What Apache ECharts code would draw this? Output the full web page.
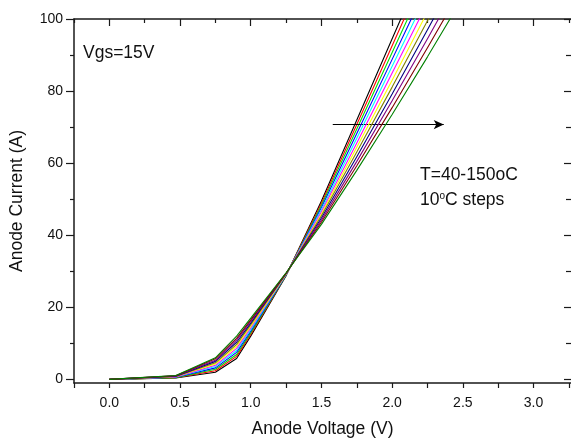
<!DOCTYPE html>
<html>
<head>
<meta charset="utf-8">
<script src="https://cdn.jsdelivr.net/npm/echarts@6/dist/echarts.min.js"></script>
<style>
html,body{margin:0;padding:0;background:#fff;}
#c{width:571px;height:443px;}
</style>
</head>
<body>
<div id="c"></div>
<script>
// Anode voltage grid (V)
const voltage = [0, 0.47, 0.75, 0.9, 1.0, 1.25, 1.5, 1.75, 2.0, 2.25, 2.5];
// Temperatures (°C)
const temps = [40, 50, 60, 70, 80, 90, 100, 110, 120, 130, 140, 150];
// Anode current (A) per temperature
const i40  = [0, 0.4, 2.0, 5.8, 12.0, 28.8, 49.5, 72.0, 94.5, 117, 140];
const i50  = [0, 0.5, 2.4, 6.4, 12.5, 28.9, 48.9, 70.7, 92.6, 114.5, 136.9];
const i60  = [0, 0.5, 2.8, 6.9, 12.9, 28.9, 48.3, 69.5, 90.7, 112, 133.8];
const i70  = [0, 0.6, 3.2, 7.5, 13.4, 29.0, 47.7, 68.2, 88.8, 109.5, 130.7];
const i80  = [0, 0.7, 3.6, 8.0, 13.8, 29.1, 47.1, 66.9, 86.9, 107, 127.6];
const i90  = [0, 0.7, 3.9, 8.6, 14.3, 29.2, 46.5, 65.6, 85.0, 104.5, 124.5];
const i100 = [0, 0.8, 4.3, 9.2, 14.7, 29.2, 45.9, 64.4, 83.0, 102, 121.5];
const i110 = [0, 0.8, 4.6, 9.7, 15.2, 29.3, 45.4, 63.1, 81.1, 99.5, 118.4];
const i120 = [0, 0.9, 5.0, 10.3, 15.6, 29.4, 44.8, 61.8, 79.2, 97, 115.3];
const i130 = [0, 1.0, 5.3, 10.9, 16.1, 29.4, 44.2, 60.5, 77.3, 94.5, 112.2];
const i140 = [0, 1.0, 5.7, 11.4, 16.5, 29.5, 43.6, 59.3, 75.4, 92, 109.1];
const i150 = [0, 1.1, 6.0, 12.0, 17.0, 29.6, 43.0, 58.0, 73.5, 89.5, 106];
const currents = [i40, i50, i60, i70, i80, i90, i100, i110, i120, i130, i140, i150];
const colors = ['#000000','#ff0000','#00e000','#0000ff','#00ffff','#ff00ff','#ffff00','#808000','#000080','#800080','#800000','#008000'];

// Tick labels
const xLabels = [0, 0.5, 1.0, 1.5, 2.0, 2.5, 3.0];
const xTicks = [-0.25, 0, 0.25, 0.5, 0.75, 1.0, 1.25, 1.5, 1.75, 2.0, 2.25, 2.5, 2.75, 3.0, 3.25];
const xMinorTop = [-0.25, 0.25, 0.75, 1.25, 1.75, 2.25, 2.75, 3.25];
const yLabels = [0, 20, 40, 60, 80, 100];
const yMinor = [10, 30, 50, 70, 90];

// Arrow annotation (data coords)
const arrowFrom = [1.58, 70.7];
const arrowTo = [2.365, 70.7];

const FONT = 'Liberation Sans, Arial, Helvetica, sans-serif';
const AX = '#1a1a1a';

const chart = echarts.init(document.getElementById('c'), null, {renderer: 'canvas'});

const series = temps.map((t, k) => ({
  name: t + '°C',
  type: 'line',
  xAxisIndex: 0,
  yAxisIndex: 0,
  data: voltage.map((v, j) => [v, currents[k][j]]),
  showSymbol: false,
  symbol: 'none',
  clip: true,
  lineStyle: {width: 1.1, color: colors[k]},
  itemStyle: {color: colors[k]},
  z: 2 + k,
  animation: false
}));
series[0].markLine = {
  silent: true,
  symbol: ['none', 'arrow'],
  symbolSize: [7, 10],
  label: {show: false},
  lineStyle: {color: '#000', width: 1, type: 'solid'},
  data: [[{coord: arrowFrom}, {coord: arrowTo}]],
  animation: false
};

const baseX = {type: 'value', min: -0.25, max: 3.265, gridIndex: 0, splitLine: {show: false}};
const baseY = {type: 'value', min: -1, max: 100, gridIndex: 0, splitLine: {show: false}};

chart.setOption({
  animation: false,
  backgroundColor: '#fff',
  grid: {left: 74, top: 19, right: 0, bottom: 59, containLabel: false},
  xAxis: [
    Object.assign({}, baseX, {
      position: 'bottom',
      axisLine: {show: true, onZero: false, lineStyle: {color: AX, width: 1.5}},
      axisTick: {show: true, inside: false, length: 5, customValues: xTicks, lineStyle: {color: AX, width: 1.2}},
      axisLabel: {show: true, customValues: xLabels, formatter: v => Number(v).toFixed(1), fontSize: 14, color: '#111', fontFamily: FONT, margin: 13},
      name: 'Anode Voltage (V)', nameLocation: 'middle', nameGap: 37,
      nameTextStyle: {fontSize: 17.5, color: '#111', fontFamily: FONT}
    }),
    Object.assign({}, baseX, {
      position: 'top',
      axisLine: {show: true, onZero: false, lineStyle: {color: AX, width: 1.5}},
      axisTick: {show: true, inside: true, length: 7, customValues: [0,0.5,1.0,1.5,2.0,2.5,3.0], lineStyle: {color: AX, width: 1.2}},
      axisLabel: {show: false}
    }),
    Object.assign({}, baseX, {
      position: 'top',
      axisLine: {show: false, onZero: false},
      axisTick: {show: true, inside: true, length: 4, customValues: xMinorTop, lineStyle: {color: AX, width: 1.2}},
      axisLabel: {show: false}
    })
  ],
  yAxis: [
    Object.assign({}, baseY, {
      position: 'left',
      axisLine: {show: true, onZero: false, lineStyle: {color: AX, width: 1.5}},
      axisTick: {show: true, inside: false, length: 8, customValues: yLabels, lineStyle: {color: AX, width: 1.2}},
      axisLabel: {show: true, customValues: yLabels, fontSize: 14, color: '#111', fontFamily: FONT, margin: 11},
      name: 'Anode Current (A)', nameLocation: 'middle', nameGap: 48,
      nameTextStyle: {fontSize: 17.5, color: '#111', fontFamily: FONT}
    }),
    Object.assign({}, baseY, {
      position: 'left',
      axisLine: {show: false, onZero: false},
      axisTick: {show: true, inside: false, length: 4, customValues: yMinor, lineStyle: {color: AX, width: 1.2}},
      axisLabel: {show: false}
    }),
    Object.assign({}, baseY, {
      position: 'right',
      axisLine: {show: false, onZero: false},
      axisTick: {show: true, inside: true, length: 7, customValues: yLabels, lineStyle: {color: AX, width: 1.2}},
      axisLabel: {show: false}
    }),
    Object.assign({}, baseY, {
      position: 'right',
      axisLine: {show: false, onZero: false},
      axisTick: {show: true, inside: true, length: 5, customValues: yMinor, lineStyle: {color: AX, width: 1.2}},
      axisLabel: {show: false}
    })
  ],
  series: series,
  graphic: [
    {type: 'text', left: 83, top: 44, style: {text: 'Vgs=15V', fontSize: 17.5, fontFamily: FONT, fill: '#111'}},
    {type: 'text', left: 420, top: 166, style: {text: 'T=40-150oC', fontSize: 17.5, fontFamily: FONT, fill: '#111'}},
    {type: 'text', left: 420, top: 191, style: {
      text: '10{sup|o}C steps', fontSize: 17.5, fontFamily: FONT, fill: '#111',
      rich: {sup: {fontSize: 10, fontFamily: FONT, fill: '#111', verticalAlign: 'top', padding: [0, 0, 8, 0]}}
    }}
  ]
});
</script>
</body>
</html>
